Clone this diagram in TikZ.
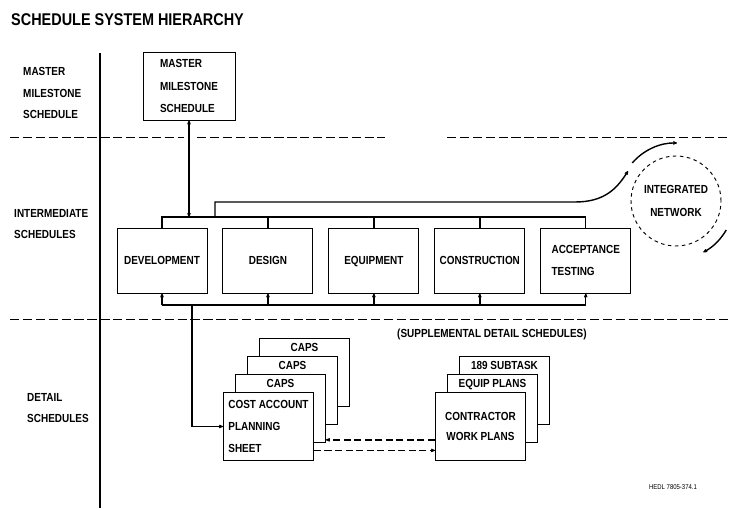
\documentclass[tikz,border=0pt]{standalone}
\usepackage{fontspec}
\setmainfont[FakeStretch=0.85]{Liberation Sans}
\usetikzlibrary{positioning, arrows.meta}

\begin{document}
\begin{tikzpicture}[
		x=0.03cm, y=-0.03cm,
		>={Stealth[round, length=5pt, width=4pt]},
		title/.style={font=\fontsize{14.5}{16}\selectfont\bfseries, anchor=west, inner sep=0pt},
		level/.style={font=\fontsize{10}{18}\selectfont\bfseries, align=left, anchor=west, inner sep=0pt},
		master/.style={draw, line width=0.8pt, minimum width=2.76cm, minimum height=2.04cm, align=left, font=\fontsize{10}{19}\selectfont\bfseries},
		sched/.style={draw, line width=0.8pt, minimum width=2.7cm, minimum height=1.95cm, inner xsep=1pt, align=left, font=\fontsize{10}{18.5}\selectfont\bfseries},
		onerow/.style={text height=1.6ex, text depth=0.3ex},
		cardtext/.style={font=\fontsize{10}{19}\selectfont\bfseries},
		card/.style={draw, fill=white, line width=0.8pt, minimum width=2.7cm, minimum height=2.04cm, anchor=north west, inner sep=1pt, cardtext},
		network/.style={draw, circle, dashed, line width=0.8pt, minimum size=2.7cm, align=center, font=\fontsize{10}{19.5}\selectfont\bfseries},
		link/.style={line width=1.2pt},
		flow/.style={link, dash pattern=on 6pt off 3pt},
		divider/.style={line width=0.7pt, dash pattern=on 8pt off 3pt},
		note/.style={font=\fontsize{10}{11}\selectfont\bfseries, anchor=west, inner sep=0pt}
		]
		\useasboundingbox (0,0) rectangle (730,508);
		
		% --- frame of the three levels ---
		\node[title] (title) at (11,20) {SCHEDULE SYSTEM HIERARCHY};
		\draw[line width=1.4pt] (100,53) -- (100,508);
		\draw[divider] (10,137) -- (184,137);
		\draw[divider] (197,137) -- (385,137);
		\draw[divider] (447,137) -- (730,137);
		\draw[divider] (10,319) -- (730,319);
		
		\node[level] (lmaster) at (23,93) {MASTER\\MILESTONE\\SCHEDULE};
		\node[level] (linter) at (14,224) {INTERMEDIATE\\SCHEDULES};
		\node[level] (ldetail) at (27,408) {DETAIL\\SCHEDULES};
		
		% --- master milestone schedule ---
		\node[master] (master) at (189,86) {MASTER\\MILESTONE\\SCHEDULE};
		
		% --- intermediate schedules ---
		\node[sched, onerow] (dev) at (162,260.5) {DEVELOPMENT};
		\node[sched, onerow, right=0.45cm of dev] (design) {DESIGN};
		\node[sched, onerow, right=0.45cm of design] (equip) {EQUIPMENT};
		\node[sched, onerow, right=0.45cm of equip] (constr) {CONSTRUCTION};
		\node[sched, right=0.45cm of constr] (accept) {ACCEPTANCE\\TESTING};
		
		\node[network] (net) at (676,201) {INTEGRATED\\NETWORK};
		
		\coordinate (tbus) at (0,217);
		\coordinate (bbus) at (0,305);
		\draw[link] (dev.north) -- (dev.north |- tbus) -- (accept.north |- tbus) -- (accept.north);
		\foreach \s in {design, equip, constr}
		\draw[link] (\s.north) -- (\s.north |- tbus);
		\draw[link] (dev.south |- bbus) -- (accept.south |- bbus);
		\foreach \s in {dev, design, equip, constr, accept}
		\draw[link, ->] (\s.south |- bbus) -- (\s.south);
		\draw[link, <->] (master.south) -- (master.south |- tbus);
		
		% route to the integrated network
		\coordinate (netfrom) at (215,217);
		\coordinate (netto) at (628,171);
		\draw[link, ->] (netfrom) |- (575,202) .. controls (603,202) and (616,190) .. (netto);
		\draw[link, ->] ([shift={(139:1.74cm)}]net.center) arc[start angle=139, end angle=89, radius=1.74cm];
		\draw[link, ->] ([shift={(-30:1.74cm)}]net.center) arc[start angle=-30, end angle=-62, radius=1.74cm];
		
		% --- detail schedules ---
		\node[note] (supp) at (397,334) {(SUPPLEMENTAL DETAIL SCHEDULES)};
		
		\node[card, label={[cardtext, anchor=north, inner sep=4pt]north:CAPS}] (caps1) at (259,338) {};
		\node[card, label={[cardtext, anchor=north, inner sep=4pt]north:CAPS}] (caps2) at (247,356) {};
		\node[card, label={[cardtext, anchor=north, inner sep=4pt]north:CAPS}] (caps3) at (235,374) {};
		\node[card, align=left] (cost) at (223,392) {COST ACCOUNT\\PLANNING\\SHEET};
		
		\node[card, label={[cardtext, anchor=north, inner sep=4pt]north:189 SUBTASK}] (subtask) at (459,356) {};
		\node[card, label={[cardtext, anchor=north, inner sep=4pt]north:EQUIP PLANS}] (eqplans) at (447,374) {};
		\node[card, align=center, font=\fontsize{10}{17}\selectfont\bfseries] (contr) at (435,392) {CONTRACTOR\\WORK PLANS};
		
		\coordinate (tap) at (192,305);
		\draw[link, ->] (tap) |- (cost.west);
		\draw[flow, ->] ([yshift=9pt]cost.south east) -- ([yshift=9pt]contr.south west);
		\draw[flow, ->] ([yshift=18pt]contr.south west) -- ([yshift=18pt]contr.south west -| caps3.east);
		
		\node[font=\fontsize{6}{7}\selectfont] (ref) at (673,487) {HEDL 7805-374.1};
		
	\end{tikzpicture}
\end{document}
